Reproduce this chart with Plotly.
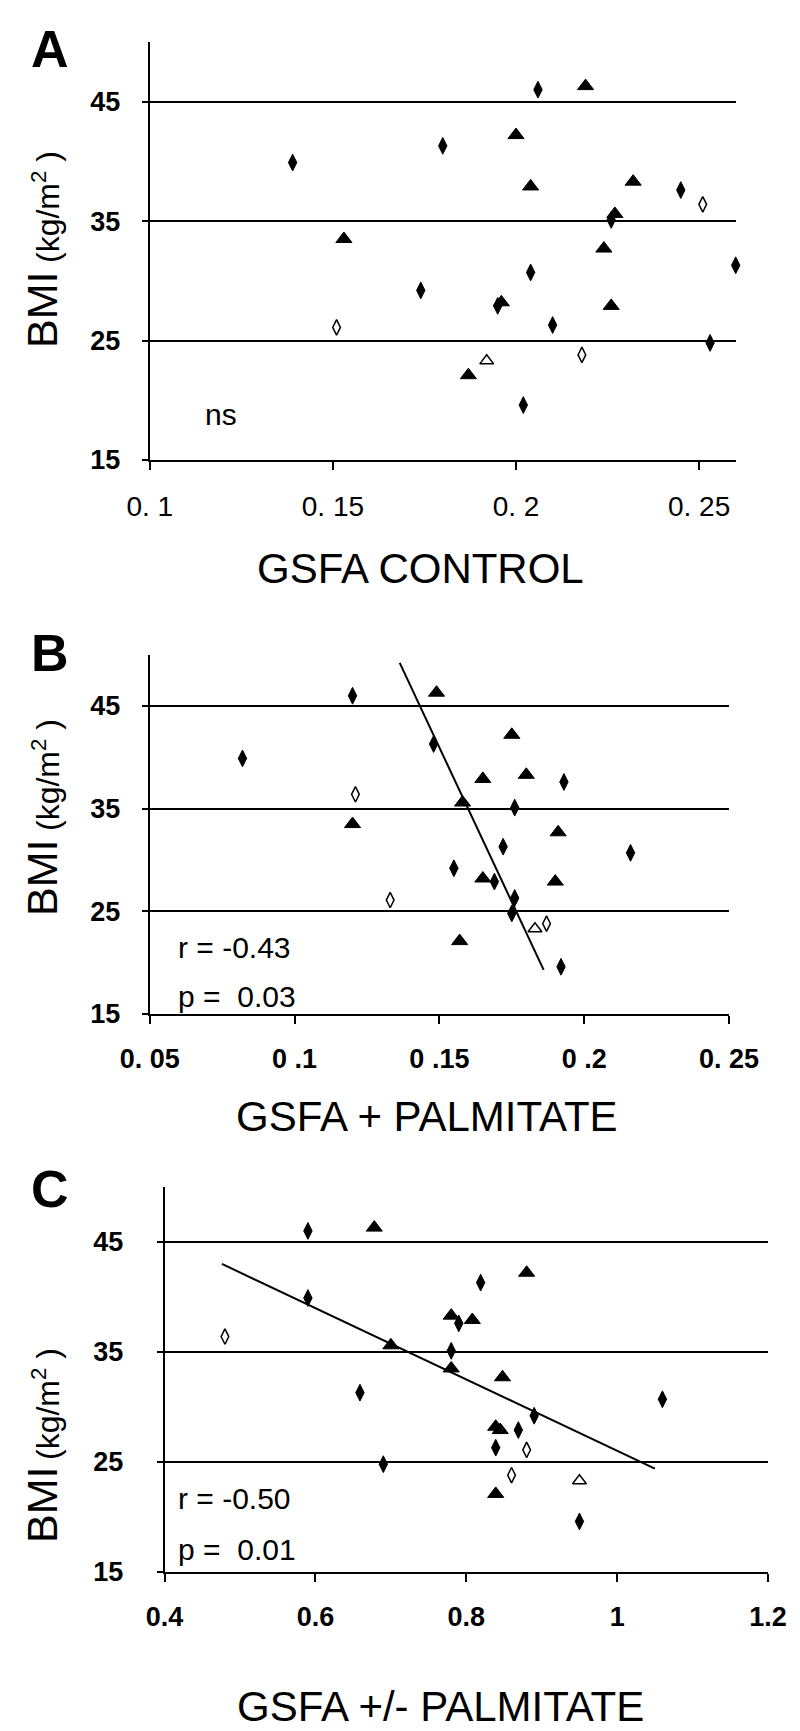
import plotly.graph_objects as go

# ---------------- data ----------------
# BMI values per subject group
bmi_filled_diamond = [46.0, 41.3, 39.9, 37.6, 35.1, 31.3, 30.7, 29.2, 27.9, 26.3, 24.8, 19.6]
bmi_filled_triangle = [46.3, 42.2, 38.3, 37.9, 35.6, 33.5, 32.7, 28.2, 27.9, 22.1]
bmi_open_diamond = [36.4, 26.1, 23.8]
bmi_open_triangle = [23.3]

# Panel A: GSFA CONTROL
a_filled_diamond = [0.206, 0.180, 0.139, 0.245, 0.226, 0.260, 0.204, 0.174, 0.195, 0.210, 0.253, 0.202]
a_filled_triangle = [0.219, 0.200, 0.232, 0.204, 0.227, 0.153, 0.224, 0.196, 0.226, 0.187]
a_open_diamond = [0.251, 0.151, 0.218]
a_open_triangle = [0.192]

# Panel B: GSFA + PALMITATE
b_filled_diamond = [0.120, 0.148, 0.082, 0.193, 0.176, 0.172, 0.216, 0.155, 0.169, 0.176, 0.175, 0.192]
b_filled_triangle = [0.149, 0.175, 0.180, 0.165, 0.158, 0.120, 0.191, 0.165, 0.190, 0.157]
b_open_diamond = [0.121, 0.133, 0.187]
b_open_triangle = [0.183]
b_fit_x = [0.1363, 0.186]
b_fit_y = [49.2, 19.3]

# Panel C: GSFA +/- PALMITATE
c_filled_diamond = [0.590, 0.819, 0.590, 0.790, 0.780, 0.659, 1.060, 0.890, 0.869, 0.839, 0.690, 0.950]
c_filled_triangle = [0.678, 0.880, 0.780, 0.808, 0.700, 0.780, 0.848, 0.839, 0.845, 0.839]
c_open_diamond = [0.480, 0.880, 0.860]
c_open_triangle = [0.950]
c_fit_x = [0.476, 1.050]
c_fit_y = [43.0, 24.4]

y_ticks = [15, 25, 35, 45]
a_tickvals = [0.1, 0.15, 0.2, 0.25]
a_ticktext = ["0. 1", "0. 15", "0. 2", "0. 25"]
b_tickvals = [0.05, 0.1, 0.15, 0.2, 0.25]
b_ticktext = ["0. 05", "0 .1", "0 .15", "0 .2", "0. 25"]
c_tickvals = [0.4, 0.6, 0.8, 1.0, 1.2]
c_ticktext = ["0.4", "0.6", "0.8", "1", "1.2"]

# ---------------- layout helpers ----------------
W, H = 800, 1731
FONT = "Liberation Sans, Arial, Helvetica, sans-serif"


def px(x):
    return x / W


def py(y):
    return 1 - y / H


fig = go.Figure()

panels = [
    dict(ax="", xs=(a_filled_diamond, a_filled_triangle, a_open_diamond, a_open_triangle),
         fit=None, xrange=[0.1, 0.26], xpix=(141.8, 727.7), ypix=(33.9, 452.0),
         tickvals=a_tickvals, ticktext=a_ticktext, bold=False, ystand=16),
    dict(ax="2", xs=(b_filled_diamond, b_filled_triangle, b_open_diamond, b_open_triangle),
         fit=(b_fit_x, b_fit_y), xrange=[0.05, 0.25], xpix=(141.8, 721.0), ypix=(646.7, 1006.0),
         tickvals=b_tickvals, ticktext=b_ticktext, bold=True, ystand=16),
    dict(ax="3", xs=(c_filled_diamond, c_filled_triangle, c_open_diamond, c_open_triangle),
         fit=(c_fit_x, c_fit_y), xrange=[0.4, 1.2], xpix=(156.6, 760.0), ypix=(1178.9, 1564.0),
         tickvals=c_tickvals, ticktext=c_ticktext, bold=True, ystand=28),
]

groups = [
    (bmi_filled_diamond, dict(symbol="diamond-tall", size=12, color="black",
                              line=dict(color="black", width=1))),
    (bmi_filled_triangle, dict(symbol="triangle-up", size=14, color="black",
                               line=dict(color="black", width=1))),
    (bmi_open_diamond, dict(symbol="diamond-tall-open", size=11, color="black",
                            line=dict(color="black", width=1.5))),
    (bmi_open_triangle, dict(symbol="triangle-up-open", size=12, color="black",
                             line=dict(color="black", width=1.5))),
]

layout_axes = {}
for p in panels:
    xa = "x" + p["ax"]
    ya = "y" + p["ax"]
    if p["fit"] is not None:
        fig.add_trace(go.Scatter(x=p["fit"][0], y=p["fit"][1], mode="lines",
                                 line=dict(color="black", width=2),
                                 xaxis=xa, yaxis=ya, showlegend=False, hoverinfo="skip"))
    for xs, (bmi, mk) in zip(p["xs"], groups):
        fig.add_trace(go.Scatter(x=xs, y=bmi, mode="markers", marker=mk,
                                 xaxis=xa, yaxis=ya, showlegend=False, cliponaxis=False))
    tickfont = dict(family=FONT, size=27 if p["bold"] else 28, color="black",
                    weight="bold" if p["bold"] else "normal")
    layout_axes["xaxis" + p["ax"]] = dict(
        domain=[px(p["xpix"][0]), px(p["xpix"][1])], range=p["xrange"],
        anchor=ya, showline=True, linecolor="black", linewidth=2, automargin=False,
        showgrid=False, zeroline=False, ticks="outside", ticklen=8, tickwidth=2,
        tickcolor="black", tickvals=p["tickvals"], ticktext=p["ticktext"],
        tickfont=tickfont, ticklabelstandoff=12, fixedrange=True)
    layout_axes["yaxis" + p["ax"]] = dict(
        domain=[py(p["ypix"][1]), py(p["ypix"][0])], range=[15, 50],
        anchor=xa, showline=True, linecolor="black", linewidth=2, automargin=False,
        showgrid=True, gridcolor="black", gridwidth=2, zeroline=False,
        ticks="outside", ticklen=6, tickwidth=2, tickcolor="black",
        tickvals=y_ticks, ticktext=[str(v) for v in y_ticks],
        tickfont=dict(family=FONT, size=27, color="black", weight="bold"),
        ticklabelstandoff=p["ystand"], fixedrange=True)

annotations = []


def ann(text, x, y, size, bold=False, angle=0, xanchor="center"):
    annotations.append(dict(text=text, x=px(x), y=py(y), xref="paper", yref="paper",
                            xanchor=xanchor, yanchor="middle", showarrow=False,
                            textangle=angle,
                            font=dict(family=FONT, size=size, color="black",
                                      weight="bold" if bold else "normal")))


# panel letters
ann("A", 42, 41, 52, bold=True)
ann("B", 42, 645, 52, bold=True)
ann("C", 42, 1181, 52, bold=True)

# y titles: "BMI" large, "(kg/m2 )" smaller
for bmi_c, unit_c in [(302, 199), (870, 767), (1497, 1396)]:
    ann("BMI", 34, bmi_c, 43, angle=-90)
    ann("(kg/m<sup>2</sup> )", 38, unit_c, 32, angle=-90)

# x titles
ann("GSFA CONTROL", 412, 561, 42)
ann("GSFA + PALMITATE", 419, 1108, 42)
ann("GSFA +/- PALMITATE", 432, 1698, 42)

# statistics
ann("ns", 195, 407, 30, xanchor="left")
ann("r = -0.43", 168, 939, 30, xanchor="left")
ann("p =  0.03", 168, 988, 30, xanchor="left")
ann("r = -0.50", 168, 1490, 30, xanchor="left")
ann("p =  0.01", 168, 1541, 30, xanchor="left")

fig.update_layout(
    template="none",
    width=W, height=H, autosize=False,
    margin=dict(l=0, r=0, t=0, b=0, pad=0, autoexpand=False),
    paper_bgcolor="white", plot_bgcolor="white",
    font=dict(family=FONT, color="black"),
    showlegend=False,
    annotations=annotations,
    **layout_axes,
)

fig.write_html("out.html")
